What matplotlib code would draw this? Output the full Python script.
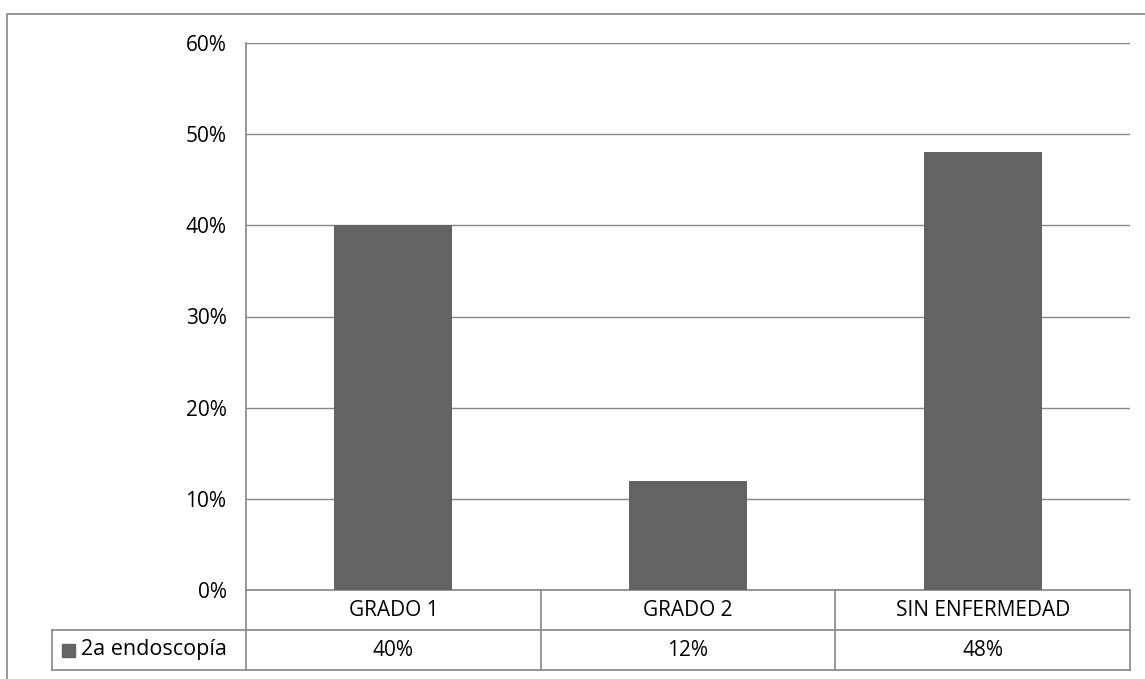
import matplotlib.pyplot as plt
from matplotlib.patches import Rectangle
from matplotlib.lines import Line2D
import matplotlib.transforms as mtransforms

categories = ["GRADO 1", "GRADO 2", "SIN ENFERMEDAD"]
values = [40, 12, 48]
series_name = "2a endoscopía"
yticks = [0, 10, 20, 30, 40, 50, 60]

plt.rcParams['font.family'] = ['Open Sans', 'DejaVu Sans']
fs = 15

W, H = 1145, 679
fig = plt.figure(figsize=(W / 100, H / 100), dpi=100)

# plot area in pixels
left, right, top, bottom = 246, 1130, 43, 590
ax = fig.add_axes([left / W, (H - bottom) / H, (right - left) / W, (bottom - top) / H])

bar_color = "#636363"
grid_color = "#868686"

x = range(len(categories))
ax.bar(x, values, width=0.4, color=bar_color, zorder=3)
ax.set_xlim(-0.5, len(categories) - 0.5)
ax.set_ylim(0, 60)
ax.set_yticks(yticks)
ax.set_yticklabels([f"{t}%" for t in yticks], fontsize=fs)
ax.tick_params(axis='y', length=0, pad=14)
ax.set_xticks([])
ax.grid(axis='y', color=grid_color, linewidth=1, zorder=0)
for s in ["top", "right", "bottom"]:
    ax.spines[s].set_visible(False)
ax.spines["left"].set_color(grid_color)
ax.spines["left"].set_linewidth(1.2)

# data table below the axis
row_h = 40 / (bottom - top)  # in axes fraction
trans = mtransforms.blended_transform_factory(ax.transData, ax.transAxes)
xmin, xmax = -0.5, len(categories) - 0.5
lc = dict(color=grid_color, linewidth=1.2, clip_on=False)
for yy in [0, -row_h, -2 * row_h]:
    ax.add_line(Line2D([xmin, xmax], [yy, yy], transform=trans, **lc))
for xx in [xmin + i for i in range(len(categories) + 1)]:
    ax.add_line(Line2D([xx, xx], [0, -2 * row_h], transform=trans, **lc))

for i, (c, v) in enumerate(zip(categories, values)):
    ax.text(i, -0.5 * row_h, c, transform=trans, ha='center', va='center', fontsize=fs)
    ax.text(i, -1.5 * row_h, f"{v}%", transform=trans, ha='center', va='center', fontsize=fs)

# legend cell on the left (figure pixels)
def fx(px):
    return px / W

def fy(py):
    return (H - py) / H

lk = dict(color=grid_color, linewidth=1.2, transform=fig.transFigure)
fig.add_artist(Line2D([fx(52), fx(left)], [fy(630), fy(630)], **lk))
fig.add_artist(Line2D([fx(52), fx(left)], [fy(670), fy(670)], **lk))
fig.add_artist(Line2D([fx(52), fx(52)], [fy(630), fy(670)], **lk))
fig.add_artist(Rectangle((fx(62), fy(657)), 13 / W, 13 / H, color=bar_color,
                         transform=fig.transFigure))
fig.text(fx(81), fy(650), series_name, ha='left', va='center', fontsize=fs + 0.5)

# outer chart border
fig.add_artist(Rectangle((fx(7), fy(H + 5)), (W + 10) / W, (H - 14 + 5) / H, fill=False,
                         edgecolor=grid_color, linewidth=1.2, transform=fig.transFigure))

fig.savefig("out.png", dpi=100)
